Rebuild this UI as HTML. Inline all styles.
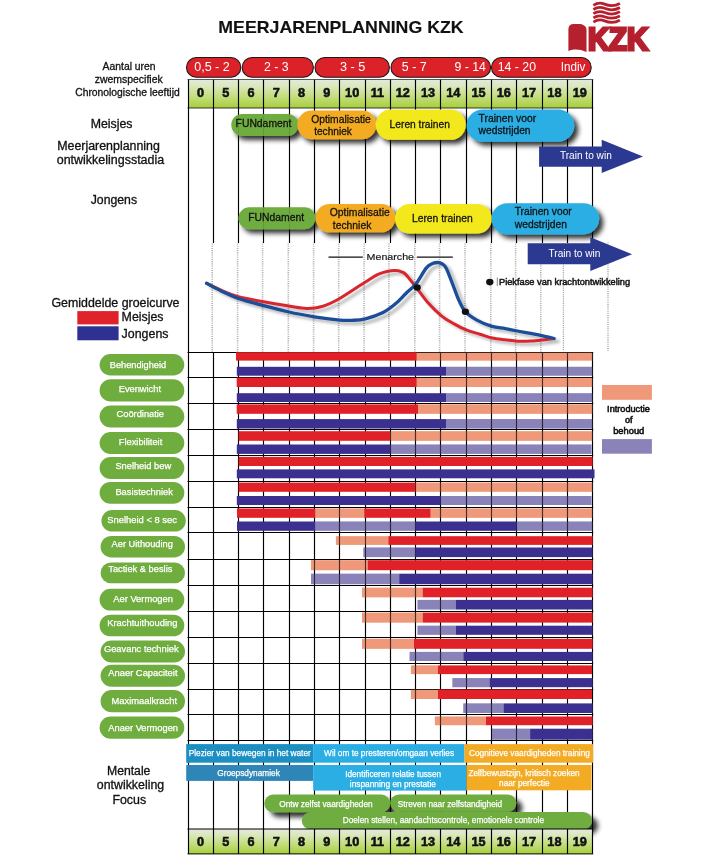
<!DOCTYPE html>
<html lang="nl"><head><meta charset="utf-8"><title>Meerjarenplanning KZK</title>
<style>
html,body{margin:0;padding:0;background:#fff;}
body{width:710px;height:865px;overflow:hidden;font-family:"Liberation Sans",sans-serif;}
svg{display:block;font-family:"Liberation Sans",sans-serif;will-change:transform;}
.num{font-size:12.7px;font-weight:bold;fill:#111;stroke:#111;stroke-width:0.55px;text-anchor:middle;}
</style></head><body>
<svg width="710" height="865" viewBox="0 0 710 865">
<defs>
<linearGradient id="gh" x1="0" y1="0" x2="0" y2="1"><stop offset="0" stop-color="#e4e9de"/><stop offset="0.22" stop-color="#dbe8c0"/><stop offset="0.6" stop-color="#c4dd7e"/><stop offset="1" stop-color="#a6cf3a"/></linearGradient>
<filter id="sh" x="-10%" y="-30%" width="135%" height="200%"><feGaussianBlur in="SourceAlpha" stdDeviation="2.4"/><feOffset dx="3.6" dy="4.2" result="o"/><feComponentTransfer><feFuncA type="linear" slope="0.8"/></feComponentTransfer><feMerge><feMergeNode/><feMergeNode in="SourceGraphic"/></feMerge></filter>
<filter id="sh2" x="-5%" y="-30%" width="115%" height="180%"><feGaussianBlur in="SourceAlpha" stdDeviation="1.5"/><feOffset dx="3.5" dy="3" result="o"/><feComponentTransfer><feFuncA type="linear" slope="0.28"/></feComponentTransfer><feMerge><feMergeNode/><feMergeNode in="SourceGraphic"/></feMerge></filter>
<filter id="sh3" x="-10%" y="-40%" width="130%" height="230%"><feGaussianBlur in="SourceAlpha" stdDeviation="2.6"/><feOffset dx="5.6" dy="4.6" result="o"/><feComponentTransfer><feFuncA type="linear" slope="0.8"/></feComponentTransfer><feMerge><feMergeNode/><feMergeNode in="SourceGraphic"/></feMerge></filter>
</defs>
<rect width="710" height="865" fill="#fff"/>
<text x="218.3" y="32.9" font-size="15.7" fill="#111" font-weight="bold" stroke="#111" stroke-width="0.12" textLength="245.3" lengthAdjust="spacingAndGlyphs">MEERJARENPLANNING KZK</text>
<g fill="#b5202e">
<path d="M568.4 29 C568.6 25.8 570.6 24 573.5 24 L578.5 24 C583 24 586 26 586.5 29 L586.5 52 C582 50 578 49.2 574 49.6 C572 49.8 570 50.4 568.4 51 Z"/>
<text x="587.9" y="50.1" font-size="30.6" font-weight="bold" stroke="#b5202e" stroke-width="2.9" stroke-linejoin="miter" textLength="60.2" lengthAdjust="spacingAndGlyphs">KZK</text>
</g>
<g fill="none" stroke="#b5202e" stroke-width="2.75">
<path d="M593.4 5.3 C597 2.9 601 2.7 604.5 4.1 C609 5.9 614 6.9 619.9 3.3"/>
<path d="M593.4 9.5 C597 7.1 601 6.9 604.5 8.3 C609 10.1 614 11.1 619.9 7.5"/>
<path d="M593.4 13.7 C597 11.3 601 11.1 604.5 12.5 C609 14.3 614 15.3 619.9 11.7"/>
<path d="M593.4 17.9 C597 15.5 601 15.3 604.5 16.7 C609 18.5 614 19.5 619.9 15.9"/>
<path d="M593.4 22.1 C597 19.7 601 19.5 604.5 20.9 C609 22.7 614 23.7 619.9 20.1"/>
</g>
<text x="102.6" y="69.8" font-size="10.7" fill="#111" stroke="#111" stroke-width="0.3" textLength="53.0" lengthAdjust="spacingAndGlyphs">Aantal uren</text>
<text x="94.7" y="82.5" font-size="10.7" fill="#111" stroke="#111" stroke-width="0.3" textLength="68.0" lengthAdjust="spacingAndGlyphs">zwemspecifiek</text>
<text x="75.2" y="96.1" font-size="10.7" fill="#111" stroke="#111" stroke-width="0.3" textLength="104.5" lengthAdjust="spacingAndGlyphs">Chronologische leeftijd</text>
<text x="90.7" y="127.7" font-size="12" fill="#111" stroke="#111" stroke-width="0.3" textLength="41.8" lengthAdjust="spacingAndGlyphs">Meisjes</text>
<text x="57.2" y="150.0" font-size="12" fill="#111" stroke="#111" stroke-width="0.3" textLength="102.7" lengthAdjust="spacingAndGlyphs">Meerjarenplanning</text>
<text x="56.7" y="164.0" font-size="12" fill="#111" stroke="#111" stroke-width="0.3" textLength="107.5" lengthAdjust="spacingAndGlyphs">ontwikkelingsstadia</text>
<text x="90.7" y="203.8" font-size="12" fill="#111" stroke="#111" stroke-width="0.3" textLength="46.4" lengthAdjust="spacingAndGlyphs">Jongens</text>
<text x="51.4" y="306.6" font-size="12" fill="#111" stroke="#111" stroke-width="0.3" textLength="128.1" lengthAdjust="spacingAndGlyphs">Gemiddelde groeicurve</text>
<rect x="77.3" y="311.1" width="41.3" height="13.3" fill="#e0232b"/>
<rect x="77.3" y="326.3" width="41.3" height="14" fill="#2e3192"/>
<text x="121.6" y="320.5" font-size="12" fill="#111" stroke="#111" stroke-width="0.3" textLength="41.9" lengthAdjust="spacingAndGlyphs">Meisjes</text>
<text x="121.6" y="337.5" font-size="12" fill="#111" stroke="#111" stroke-width="0.3" textLength="46.9" lengthAdjust="spacingAndGlyphs">Jongens</text>
<text x="107.0" y="774.8" font-size="12" fill="#111" stroke="#111" stroke-width="0.3" textLength="43.4" lengthAdjust="spacingAndGlyphs">Mentale</text>
<text x="96.8" y="789.0" font-size="12" fill="#111" stroke="#111" stroke-width="0.3" textLength="67.4" lengthAdjust="spacingAndGlyphs">ontwikkeling</text>
<text x="112.4" y="803.7" font-size="12" fill="#111" stroke="#111" stroke-width="0.3" textLength="33.8" lengthAdjust="spacingAndGlyphs">Focus</text>
<rect x="186.5" y="57.5" width="54.3" height="19.8" rx="9.9" fill="#db2229" stroke="#1a1a1a" stroke-width="1.1"/>
<rect x="242.2" y="57.5" width="71.2" height="19.8" rx="9.9" fill="#db2229" stroke="#1a1a1a" stroke-width="1.1"/>
<rect x="315.0" y="57.5" width="74.4" height="19.8" rx="9.9" fill="#db2229" stroke="#1a1a1a" stroke-width="1.1"/>
<rect x="391.0" y="57.5" width="99.6" height="19.8" rx="9.9" fill="#db2229" stroke="#1a1a1a" stroke-width="1.1"/>
<rect x="491.5" y="57.5" width="99.7" height="19.8" rx="9.9" fill="#db2229" stroke="#1a1a1a" stroke-width="1.1"/>
<text x="194.2" y="71.1" font-size="12.5" fill="#fff" textLength="35.5" lengthAdjust="spacingAndGlyphs">0,5 - 2</text>
<text x="263.9" y="71.1" font-size="12.5" fill="#fff" textLength="24.6" lengthAdjust="spacingAndGlyphs">2 - 3</text>
<text x="340.0" y="71.1" font-size="12.5" fill="#fff" textLength="25.4" lengthAdjust="spacingAndGlyphs">3 - 5</text>
<text x="401.8" y="71.1" font-size="12.5" fill="#fff" textLength="24.8" lengthAdjust="spacingAndGlyphs">5 - 7</text>
<text x="454.4" y="71.1" font-size="12.5" fill="#fff" textLength="31.4" lengthAdjust="spacingAndGlyphs">9 - 14</text>
<text x="497.8" y="71.1" font-size="12.5" fill="#fff" textLength="38.2" lengthAdjust="spacingAndGlyphs">14 - 20</text>
<text x="560.7" y="71.1" font-size="12.5" fill="#fff" textLength="24.7" lengthAdjust="spacingAndGlyphs">Indiv</text>
<rect x="188.15" y="79.4" width="404.48" height="28.6" fill="url(#gh)"/>
<line x1="188.50" y1="79.4" x2="188.50" y2="108.0" stroke="#000" stroke-width="1.15"/>
<line x1="213.50" y1="79.4" x2="213.50" y2="108.0" stroke="#000" stroke-width="1.15"/>
<line x1="238.50" y1="79.4" x2="238.50" y2="108.0" stroke="#000" stroke-width="1.15"/>
<line x1="263.50" y1="79.4" x2="263.50" y2="108.0" stroke="#000" stroke-width="1.15"/>
<line x1="289.50" y1="79.4" x2="289.50" y2="108.0" stroke="#000" stroke-width="1.15"/>
<line x1="314.50" y1="79.4" x2="314.50" y2="108.0" stroke="#000" stroke-width="1.15"/>
<line x1="339.50" y1="79.4" x2="339.50" y2="108.0" stroke="#000" stroke-width="1.15"/>
<line x1="365.50" y1="79.4" x2="365.50" y2="108.0" stroke="#000" stroke-width="1.15"/>
<line x1="390.50" y1="79.4" x2="390.50" y2="108.0" stroke="#000" stroke-width="1.15"/>
<line x1="415.50" y1="79.4" x2="415.50" y2="108.0" stroke="#000" stroke-width="1.15"/>
<line x1="440.50" y1="79.4" x2="440.50" y2="108.0" stroke="#000" stroke-width="1.15"/>
<line x1="466.50" y1="79.4" x2="466.50" y2="108.0" stroke="#000" stroke-width="1.15"/>
<line x1="491.50" y1="79.4" x2="491.50" y2="108.0" stroke="#000" stroke-width="1.15"/>
<line x1="516.50" y1="79.4" x2="516.50" y2="108.0" stroke="#000" stroke-width="1.15"/>
<line x1="542.50" y1="79.4" x2="542.50" y2="108.0" stroke="#000" stroke-width="1.15"/>
<line x1="567.50" y1="79.4" x2="567.50" y2="108.0" stroke="#000" stroke-width="1.15"/>
<line x1="592.50" y1="79.4" x2="592.50" y2="108.0" stroke="#000" stroke-width="1.15"/>
<text class="num" x="200.49" y="97.1">0</text>
<text class="num" x="225.77" y="97.1">5</text>
<text class="num" x="251.05" y="97.1">6</text>
<text class="num" x="276.33" y="97.1">7</text>
<text class="num" x="301.61" y="97.1">8</text>
<text class="num" x="326.89" y="97.1">9</text>
<text class="num" x="352.17" y="97.1">10</text>
<text class="num" x="377.45" y="97.1">11</text>
<text class="num" x="402.73" y="97.1">12</text>
<text class="num" x="428.01" y="97.1">13</text>
<text class="num" x="453.29" y="97.1">14</text>
<text class="num" x="478.57" y="97.1">15</text>
<text class="num" x="503.85" y="97.1">16</text>
<text class="num" x="529.13" y="97.1">17</text>
<text class="num" x="554.41" y="97.1">18</text>
<text class="num" x="579.69" y="97.1">19</text>
<line x1="187.55" y1="79.5" x2="593.23" y2="79.5" stroke="#333" stroke-width="0.8"/>
<line x1="187.55" y1="108.0" x2="593.23" y2="108.0" stroke="#222" stroke-width="0.9"/>
<line x1="188.50" y1="107.5" x2="188.50" y2="352" stroke="#000" stroke-width="1.15"/>
<line x1="213.50" y1="107.5" x2="213.50" y2="243" stroke="#000" stroke-width="1.15"/>
<line x1="238.50" y1="107.5" x2="238.50" y2="243" stroke="#000" stroke-width="1.15"/>
<line x1="263.50" y1="107.5" x2="263.50" y2="243" stroke="#000" stroke-width="1.15"/>
<line x1="289.50" y1="107.5" x2="289.50" y2="243" stroke="#000" stroke-width="1.15"/>
<line x1="314.50" y1="107.5" x2="314.50" y2="243" stroke="#000" stroke-width="1.15"/>
<line x1="339.50" y1="107.5" x2="339.50" y2="243" stroke="#000" stroke-width="1.15"/>
<line x1="365.50" y1="107.5" x2="365.50" y2="243" stroke="#000" stroke-width="1.15"/>
<line x1="390.50" y1="107.5" x2="390.50" y2="243" stroke="#000" stroke-width="1.15"/>
<line x1="415.50" y1="107.5" x2="415.50" y2="243" stroke="#000" stroke-width="1.15"/>
<line x1="440.50" y1="107.5" x2="440.50" y2="243" stroke="#000" stroke-width="1.15"/>
<line x1="466.50" y1="107.5" x2="466.50" y2="243" stroke="#000" stroke-width="1.15"/>
<line x1="491.50" y1="107.5" x2="491.50" y2="243" stroke="#000" stroke-width="1.15"/>
<line x1="516.50" y1="107.5" x2="516.50" y2="243" stroke="#000" stroke-width="1.15"/>
<line x1="542.50" y1="107.5" x2="542.50" y2="243" stroke="#000" stroke-width="1.15"/>
<line x1="567.50" y1="107.5" x2="567.50" y2="243" stroke="#000" stroke-width="1.15"/>
<line x1="592.50" y1="107.5" x2="592.50" y2="243" stroke="#000" stroke-width="1.15"/>
<line x1="212.2" y1="243.5" x2="212.2" y2="352" stroke="#b2b2b2" stroke-width="1.6" stroke-dasharray="1.1 1.1"/>
<line x1="237.6" y1="243.5" x2="237.6" y2="352" stroke="#b2b2b2" stroke-width="1.6" stroke-dasharray="1.1 1.1"/>
<line x1="262.6" y1="243.5" x2="262.6" y2="352" stroke="#b2b2b2" stroke-width="1.6" stroke-dasharray="1.1 1.1"/>
<line x1="288.3" y1="243.5" x2="288.3" y2="352" stroke="#b2b2b2" stroke-width="1.6" stroke-dasharray="1.1 1.1"/>
<line x1="313.6" y1="243.5" x2="313.6" y2="352" stroke="#b2b2b2" stroke-width="1.6" stroke-dasharray="1.1 1.1"/>
<line x1="338.7" y1="243.5" x2="338.7" y2="352" stroke="#b2b2b2" stroke-width="1.6" stroke-dasharray="1.1 1.1"/>
<line x1="364.1" y1="243.5" x2="364.1" y2="352" stroke="#b2b2b2" stroke-width="1.6" stroke-dasharray="1.1 1.1"/>
<line x1="388.9" y1="243.5" x2="388.9" y2="352" stroke="#b2b2b2" stroke-width="1.6" stroke-dasharray="1.1 1.1"/>
<line x1="414.8" y1="243.5" x2="414.8" y2="352" stroke="#b2b2b2" stroke-width="1.6" stroke-dasharray="1.1 1.1"/>
<line x1="439.6" y1="243.5" x2="439.6" y2="352" stroke="#b2b2b2" stroke-width="1.6" stroke-dasharray="1.1 1.1"/>
<line x1="465.0" y1="243.5" x2="465.0" y2="352" stroke="#b2b2b2" stroke-width="1.6" stroke-dasharray="1.1 1.1"/>
<line x1="490.8" y1="243.5" x2="490.8" y2="352" stroke="#b2b2b2" stroke-width="1.6" stroke-dasharray="1.1 1.1"/>
<line x1="515.6" y1="243.5" x2="515.6" y2="352" stroke="#b2b2b2" stroke-width="1.6" stroke-dasharray="1.1 1.1"/>
<line x1="540.8" y1="243.5" x2="540.8" y2="352" stroke="#b2b2b2" stroke-width="1.6" stroke-dasharray="1.1 1.1"/>
<line x1="563.3" y1="243.5" x2="563.3" y2="351" stroke="#8a8a8a" stroke-width="1" stroke-dasharray="1.1 1.1"/>
<line x1="608" y1="242.5" x2="608" y2="351" stroke="#bcbcbc" stroke-width="1.8" stroke-dasharray="1.1 1.1"/>
<rect x="231.3" y="113.9" width="67.2" height="22.0" rx="11.0" fill="#70ad3f" filter="url(#sh)"/>
<line x1="238.50" y1="114.4" x2="238.50" y2="135.4" stroke="#000" stroke-opacity="0.12" stroke-width="1.15"/>
<line x1="263.50" y1="114.4" x2="263.50" y2="135.4" stroke="#000" stroke-opacity="0.12" stroke-width="1.15"/>
<line x1="289.50" y1="114.4" x2="289.50" y2="135.4" stroke="#000" stroke-opacity="0.12" stroke-width="1.15"/>
<text x="235.6" y="127.3" font-size="10.5" fill="#111" stroke="#111" stroke-width="0.28" textLength="55.8" lengthAdjust="spacingAndGlyphs">FUNdament</text>
<rect x="297.3" y="110.6" width="79.1" height="28.6" rx="14.3" fill="#f3ab23" filter="url(#sh)"/>
<text x="311.2" y="122.7" font-size="10.5" fill="#111" stroke="#111" stroke-width="0.28" textLength="59.6" lengthAdjust="spacingAndGlyphs">Optimalisatie</text>
<text x="314.2" y="134.7" font-size="10.5" fill="#111" stroke="#111" stroke-width="0.28" textLength="37.6" lengthAdjust="spacingAndGlyphs">techniek</text>
<rect x="375.6" y="109.6" width="90.1" height="30.2" rx="15.1" fill="#f3e81e" filter="url(#sh)"/>
<text x="389.6" y="127.9" font-size="10.5" fill="#111" stroke="#111" stroke-width="0.28" textLength="60.3" lengthAdjust="spacingAndGlyphs">Leren trainen</text>
<rect x="466.5" y="109.4" width="107.8" height="32.4" rx="16.2" fill="#2aaee4" filter="url(#sh)"/>
<text x="478.6" y="121.6" font-size="10.5" fill="#111" stroke="#111" stroke-width="0.28" textLength="57.5" lengthAdjust="spacingAndGlyphs">Trainen voor</text>
<text x="478.6" y="133.5" font-size="10.5" fill="#111" stroke="#111" stroke-width="0.28" textLength="52.0" lengthAdjust="spacingAndGlyphs">wedstrijden</text>
<rect x="238.4" y="207.2" width="77.1" height="22.0" rx="11.0" fill="#70ad3f" filter="url(#sh)"/>
<line x1="263.50" y1="207.7" x2="263.50" y2="228.7" stroke="#000" stroke-opacity="0.12" stroke-width="1.15"/>
<line x1="289.50" y1="207.7" x2="289.50" y2="228.7" stroke="#000" stroke-opacity="0.12" stroke-width="1.15"/>
<text x="248.3" y="221.1" font-size="10.5" fill="#111" stroke="#111" stroke-width="0.28" textLength="55.8" lengthAdjust="spacingAndGlyphs">FUNdament</text>
<rect x="315.5" y="203.9" width="79.9" height="28.4" rx="14.2" fill="#f3ab23" filter="url(#sh)"/>
<text x="329.7" y="216.0" font-size="10.5" fill="#111" stroke="#111" stroke-width="0.28" textLength="60.1" lengthAdjust="spacingAndGlyphs">Optimalisatie</text>
<text x="332.8" y="228.7" font-size="10.5" fill="#111" stroke="#111" stroke-width="0.28" textLength="38.5" lengthAdjust="spacingAndGlyphs">techniek</text>
<rect x="394.9" y="204.0" width="96.9" height="29.6" rx="14.8" fill="#f3e81e" filter="url(#sh)"/>
<text x="411.9" y="221.7" font-size="10.5" fill="#111" stroke="#111" stroke-width="0.28" textLength="60.9" lengthAdjust="spacingAndGlyphs">Leren trainen</text>
<rect x="491.6" y="203.2" width="107.6" height="31.2" rx="15.6" fill="#2aaee4" filter="url(#sh)"/>
<text x="514.7" y="214.6" font-size="10.5" fill="#111" stroke="#111" stroke-width="0.28" textLength="57.1" lengthAdjust="spacingAndGlyphs">Trainen voor</text>
<text x="514.7" y="227.6" font-size="10.5" fill="#111" stroke="#111" stroke-width="0.28" textLength="52.3" lengthAdjust="spacingAndGlyphs">wedstrijden</text>
<path d="M539.1 146.4 L601.7 146.4 L601.7 139.8 L643 156.4 L601.7 173.0 L601.7 166.7 L539.1 166.7 Z" fill="#2b3990"/>
<text x="559.9" y="158.8" font-size="10.6" fill="#fff" textLength="51.9" lengthAdjust="spacingAndGlyphs">Train to win</text>
<path d="M527.7 243.3 L590.3 243.3 L590.3 237.2 L632.1 254.15 L590.3 271.1 L590.3 264.3 L527.7 264.3 Z" fill="#2b3990"/>
<text x="548.5" y="256.7" font-size="10.6" fill="#fff" textLength="51.9" lengthAdjust="spacingAndGlyphs">Train to win</text>
<g fill="none" stroke-linecap="round" stroke-linejoin="round" filter="url(#sh2)">
<path stroke="#d8282f" stroke-width="3" d="M206.6 283.3 C209.2 284.5 216.7 288.4 222 290.6 C227.3 292.9 231.4 294.9 238.3 296.8 C245.2 298.7 255.2 300.2 263.7 301.8 C272.1 303.4 281.8 305.0 289 306.1 C296.2 307.2 301.3 308.4 306.8 308.5 C312.3 308.6 316.5 308.2 322 306.5 C327.5 304.8 332.5 302.6 339.7 298.5 C346.9 294.4 359.0 286.0 365.4 282 C371.8 278.0 374.2 276.2 378 274.4 C381.8 272.6 385.1 271.8 388 271.2 C390.9 270.6 393.1 270.5 395.3 270.6 C397.5 270.7 399.2 270.9 401 271.6 C402.8 272.3 403.4 272.0 405.9 274.6 C408.4 277.2 412.2 282.3 416 287.1 C419.8 291.9 424.5 298.8 428.7 303.6 C432.9 308.4 437.2 312.4 441.4 315.8 C445.6 319.2 449.9 321.5 454.1 323.9 C458.3 326.3 462.5 328.5 466.8 330.2 C471.1 331.9 475.8 332.9 480 334.2 C484.2 335.5 487.9 337.1 492.1 338.0 C496.3 338.9 501.2 339.3 505.4 339.8 C509.6 340.3 513.3 341.0 517.5 341.2 C521.7 341.4 526.1 341.3 530.7 341.1 C535.3 340.9 541.1 340.2 545 339.8 C548.9 339.4 552.5 338.7 554 338.5"/>
<path stroke="#1d4d98" stroke-width="3.3" d="M206.6 283.3 C209.2 284.6 216.7 288.9 222 291.4 C227.3 293.9 231.4 296.1 238.3 298.5 C245.2 300.9 255.2 303.4 263.7 305.6 C272.1 307.9 280.6 310.1 289 312 C297.4 313.9 305.9 315.4 314.4 316.8 C322.8 318.2 333.4 319.5 339.7 320.1 C346.0 320.7 347.7 320.5 352 320.3 C356.3 320.1 360.2 320.1 365.4 318.8 C370.6 317.5 378.0 315.0 383.1 312.5 C388.2 310.0 392.0 306.8 395.8 303.6 C399.6 300.4 402.5 296.8 405.9 293.5 C409.3 290.2 412.6 288.0 416 283.8 C419.4 279.6 423.4 271.5 426.2 268.1 C428.9 264.7 430.5 264.5 432.5 263.6 C434.5 262.7 436.6 262.4 438.4 262.5 C440.1 262.6 441.6 263.3 443 264.4 C444.4 265.4 444.9 265.4 446.5 268.8 C448.1 272.2 450.7 279.2 452.8 284.6 C454.9 290.0 457.1 296.5 459.2 301 C461.3 305.5 462.4 308.5 465.3 311.7 C468.2 314.9 472.4 317.7 476.9 320.1 C481.4 322.6 487.4 325.0 492.1 326.4 C496.9 327.8 501.2 327.8 505.4 328.6 C509.6 329.4 513.3 330.2 517.5 331.0 C521.7 331.8 526.1 332.5 530.7 333.4 C535.3 334.3 541.1 335.5 545 336.4 C548.9 337.2 552.5 338.1 554 338.5"/>
</g>
<ellipse cx="417.2" cy="287.5" rx="3.6" ry="3.2" fill="#111"/>
<ellipse cx="465.4" cy="311.8" rx="3.6" ry="3.2" fill="#111"/>
<ellipse cx="489.8" cy="282.1" rx="3.7" ry="3.3" fill="#111"/>
<line x1="328.5" y1="257.2" x2="362.8" y2="257.2" stroke="#111" stroke-width="1.3"/>
<line x1="416.8" y1="257.2" x2="452.8" y2="257.2" stroke="#111" stroke-width="1.3"/>
<text x="366.6" y="260.0" font-size="9.8" fill="#1a1a1a" stroke="#1a1a1a" stroke-width="0.2" textLength="47.4" lengthAdjust="spacingAndGlyphs">Menarche</text>
<line x1="497.3" y1="277.5" x2="497.3" y2="286" stroke="#666" stroke-width="0.8"/>
<text x="499.0" y="285.1" font-size="8.9" fill="#111" stroke="#111" stroke-width="0.45" textLength="131.1" lengthAdjust="spacingAndGlyphs">Piekfase van krachtontwikkeling</text>
<rect x="416.7" y="352.2" width="175.9" height="8.4" fill="#ef987a"/>
<rect x="446.0" y="366.8" width="146.6" height="8.9" fill="#8a83ba"/>
<rect x="416.7" y="377.6" width="175.9" height="9.4" fill="#ef987a"/>
<rect x="446.0" y="393.2" width="146.6" height="8.8" fill="#8a83ba"/>
<rect x="418.0" y="404.4" width="174.6" height="9.4" fill="#ef987a"/>
<rect x="446.0" y="419.1" width="146.6" height="9.4" fill="#8a83ba"/>
<rect x="390.0" y="431.2" width="202.6" height="9.6" fill="#ef987a"/>
<rect x="390.0" y="444.5" width="201.5" height="9.4" fill="#8a83ba"/>
<rect x="415.3" y="482.6" width="177.3" height="9.2" fill="#ef987a"/>
<rect x="440.6" y="496.0" width="150.9" height="9.0" fill="#8a83ba"/>
<rect x="315.3" y="508.5" width="48.9" height="9.3" fill="#ef987a"/>
<rect x="430.6" y="508.5" width="162.0" height="9.3" fill="#ef987a"/>
<rect x="315.3" y="521.5" width="100.0" height="9.3" fill="#8a83ba"/>
<rect x="516.6" y="521.5" width="76.0" height="9.3" fill="#8a83ba"/>
<rect x="335.9" y="536.2" width="52.4" height="8.7" fill="#ef987a"/>
<rect x="363.4" y="547.5" width="51.9" height="9.6" fill="#8a83ba"/>
<rect x="311.0" y="560.2" width="56.7" height="10.0" fill="#ef987a"/>
<rect x="311.0" y="573.7" width="88.2" height="10.5" fill="#8a83ba"/>
<rect x="362.0" y="587.7" width="60.7" height="9.6" fill="#ef987a"/>
<rect x="417.5" y="599.9" width="38.4" height="9.6" fill="#8a83ba"/>
<rect x="362.0" y="612.6" width="60.7" height="10.0" fill="#ef987a"/>
<rect x="417.5" y="625.7" width="38.4" height="9.1" fill="#8a83ba"/>
<rect x="362.0" y="638.8" width="52.0" height="10.0" fill="#ef987a"/>
<rect x="409.6" y="651.9" width="53.7" height="9.1" fill="#8a83ba"/>
<rect x="410.9" y="665.4" width="27.1" height="8.7" fill="#ef987a"/>
<rect x="452.4" y="678.1" width="37.1" height="9.1" fill="#8a83ba"/>
<rect x="410.9" y="689.4" width="27.1" height="9.6" fill="#ef987a"/>
<rect x="463.3" y="703.4" width="40.2" height="9.6" fill="#8a83ba"/>
<rect x="434.9" y="716.5" width="51.1" height="8.7" fill="#ef987a"/>
<rect x="491.7" y="728.7" width="38.4" height="11.0" fill="#8a83ba"/>
<line x1="188.50" y1="352" x2="188.50" y2="830" stroke="#000" stroke-width="1.15"/>
<line x1="213.50" y1="352" x2="213.50" y2="830" stroke="#000" stroke-width="1.15"/>
<line x1="238.50" y1="352" x2="238.50" y2="830" stroke="#000" stroke-width="1.15"/>
<line x1="263.50" y1="352" x2="263.50" y2="830" stroke="#000" stroke-width="1.15"/>
<line x1="289.50" y1="352" x2="289.50" y2="830" stroke="#000" stroke-width="1.15"/>
<line x1="314.50" y1="352" x2="314.50" y2="830" stroke="#000" stroke-width="1.15"/>
<line x1="339.50" y1="352" x2="339.50" y2="830" stroke="#000" stroke-width="1.15"/>
<line x1="365.50" y1="352" x2="365.50" y2="830" stroke="#000" stroke-width="1.15"/>
<line x1="390.50" y1="352" x2="390.50" y2="830" stroke="#000" stroke-width="1.15"/>
<line x1="415.50" y1="352" x2="415.50" y2="830" stroke="#000" stroke-width="1.15"/>
<line x1="440.50" y1="352" x2="440.50" y2="830" stroke="#000" stroke-width="1.15"/>
<line x1="466.50" y1="352" x2="466.50" y2="830" stroke="#000" stroke-width="1.15"/>
<line x1="491.50" y1="352" x2="491.50" y2="830" stroke="#000" stroke-width="1.15"/>
<line x1="516.50" y1="352" x2="516.50" y2="830" stroke="#000" stroke-width="1.15"/>
<line x1="542.50" y1="352" x2="542.50" y2="830" stroke="#000" stroke-width="1.15"/>
<line x1="567.50" y1="352" x2="567.50" y2="830" stroke="#000" stroke-width="1.15"/>
<line x1="592.50" y1="352" x2="592.50" y2="830" stroke="#000" stroke-width="1.15"/>
<line x1="187.55" y1="352.5" x2="593.23" y2="352.5" stroke="#000" stroke-width="1.15"/>
<line x1="187.55" y1="377.5" x2="593.23" y2="377.5" stroke="#000" stroke-width="1.15"/>
<line x1="187.55" y1="403.5" x2="593.23" y2="403.5" stroke="#000" stroke-width="1.15"/>
<line x1="187.55" y1="429.5" x2="593.23" y2="429.5" stroke="#000" stroke-width="1.15"/>
<line x1="187.55" y1="455.5" x2="593.23" y2="455.5" stroke="#000" stroke-width="1.15"/>
<line x1="187.55" y1="481.5" x2="593.23" y2="481.5" stroke="#000" stroke-width="1.15"/>
<line x1="187.55" y1="507.5" x2="593.23" y2="507.5" stroke="#000" stroke-width="1.15"/>
<line x1="187.55" y1="532.5" x2="593.23" y2="532.5" stroke="#000" stroke-width="1.15"/>
<line x1="187.55" y1="559.5" x2="593.23" y2="559.5" stroke="#000" stroke-width="1.15"/>
<line x1="187.55" y1="585.5" x2="593.23" y2="585.5" stroke="#000" stroke-width="1.15"/>
<line x1="187.55" y1="611.5" x2="593.23" y2="611.5" stroke="#000" stroke-width="1.15"/>
<line x1="187.55" y1="637.5" x2="593.23" y2="637.5" stroke="#000" stroke-width="1.15"/>
<line x1="187.55" y1="663.5" x2="593.23" y2="663.5" stroke="#000" stroke-width="1.15"/>
<line x1="187.55" y1="689.5" x2="593.23" y2="689.5" stroke="#000" stroke-width="1.15"/>
<line x1="187.55" y1="714.5" x2="593.23" y2="714.5" stroke="#000" stroke-width="1.15"/>
<line x1="187.55" y1="740.5" x2="593.23" y2="740.5" stroke="#000" stroke-width="1.15"/>
<rect x="416.7" y="352.2" width="175.9" height="8.4" fill="#ef987a" fill-opacity="0.3"/>
<rect x="446.0" y="366.8" width="146.6" height="8.9" fill="#8a83ba" fill-opacity="0.3"/>
<rect x="416.7" y="377.6" width="175.9" height="9.4" fill="#ef987a" fill-opacity="0.3"/>
<rect x="446.0" y="393.2" width="146.6" height="8.8" fill="#8a83ba" fill-opacity="0.3"/>
<rect x="418.0" y="404.4" width="174.6" height="9.4" fill="#ef987a" fill-opacity="0.3"/>
<rect x="446.0" y="419.1" width="146.6" height="9.4" fill="#8a83ba" fill-opacity="0.3"/>
<rect x="390.0" y="431.2" width="202.6" height="9.6" fill="#ef987a" fill-opacity="0.3"/>
<rect x="390.0" y="444.5" width="201.5" height="9.4" fill="#8a83ba" fill-opacity="0.3"/>
<rect x="415.3" y="482.6" width="177.3" height="9.2" fill="#ef987a" fill-opacity="0.3"/>
<rect x="440.6" y="496.0" width="150.9" height="9.0" fill="#8a83ba" fill-opacity="0.3"/>
<rect x="315.3" y="508.5" width="48.9" height="9.3" fill="#ef987a" fill-opacity="0.3"/>
<rect x="430.6" y="508.5" width="162.0" height="9.3" fill="#ef987a" fill-opacity="0.3"/>
<rect x="315.3" y="521.5" width="100.0" height="9.3" fill="#8a83ba" fill-opacity="0.3"/>
<rect x="516.6" y="521.5" width="76.0" height="9.3" fill="#8a83ba" fill-opacity="0.3"/>
<rect x="335.9" y="536.2" width="52.4" height="8.7" fill="#ef987a" fill-opacity="0.3"/>
<rect x="363.4" y="547.5" width="51.9" height="9.6" fill="#8a83ba" fill-opacity="0.3"/>
<rect x="311.0" y="560.2" width="56.7" height="10.0" fill="#ef987a" fill-opacity="0.3"/>
<rect x="311.0" y="573.7" width="88.2" height="10.5" fill="#8a83ba" fill-opacity="0.3"/>
<rect x="362.0" y="587.7" width="60.7" height="9.6" fill="#ef987a" fill-opacity="0.3"/>
<rect x="417.5" y="599.9" width="38.4" height="9.6" fill="#8a83ba" fill-opacity="0.3"/>
<rect x="362.0" y="612.6" width="60.7" height="10.0" fill="#ef987a" fill-opacity="0.3"/>
<rect x="417.5" y="625.7" width="38.4" height="9.1" fill="#8a83ba" fill-opacity="0.3"/>
<rect x="362.0" y="638.8" width="52.0" height="10.0" fill="#ef987a" fill-opacity="0.3"/>
<rect x="409.6" y="651.9" width="53.7" height="9.1" fill="#8a83ba" fill-opacity="0.3"/>
<rect x="410.9" y="665.4" width="27.1" height="8.7" fill="#ef987a" fill-opacity="0.3"/>
<rect x="452.4" y="678.1" width="37.1" height="9.1" fill="#8a83ba" fill-opacity="0.3"/>
<rect x="410.9" y="689.4" width="27.1" height="9.6" fill="#ef987a" fill-opacity="0.3"/>
<rect x="463.3" y="703.4" width="40.2" height="9.6" fill="#8a83ba" fill-opacity="0.3"/>
<rect x="434.9" y="716.5" width="51.1" height="8.7" fill="#ef987a" fill-opacity="0.3"/>
<rect x="491.7" y="728.7" width="38.4" height="11.0" fill="#8a83ba" fill-opacity="0.3"/>
<rect x="236.0" y="352.2" width="180.7" height="8.4" fill="#e02128"/>
<rect x="236.8" y="366.8" width="209.2" height="8.9" fill="#3b2f8f"/>
<rect x="236.7" y="377.6" width="180.0" height="9.4" fill="#e02128"/>
<rect x="236.8" y="393.2" width="209.2" height="8.8" fill="#3b2f8f"/>
<rect x="236.7" y="404.4" width="181.3" height="9.4" fill="#e02128"/>
<rect x="236.8" y="419.1" width="209.2" height="9.4" fill="#3b2f8f"/>
<rect x="238.6" y="431.2" width="151.4" height="9.6" fill="#e02128"/>
<rect x="236.8" y="444.5" width="153.2" height="9.4" fill="#3b2f8f"/>
<rect x="238.6" y="456.9" width="354.0" height="9.1" fill="#e02128"/>
<rect x="236.8" y="469.4" width="357.7" height="8.9" fill="#3b2f8f"/>
<rect x="238.6" y="482.6" width="176.7" height="9.2" fill="#e02128"/>
<rect x="236.8" y="496.0" width="203.8" height="9.0" fill="#3b2f8f"/>
<rect x="237.0" y="508.5" width="78.3" height="9.3" fill="#e02128"/>
<rect x="364.2" y="508.5" width="66.4" height="9.3" fill="#e02128"/>
<rect x="237.0" y="521.5" width="78.3" height="9.3" fill="#3b2f8f"/>
<rect x="415.3" y="521.5" width="101.3" height="9.3" fill="#3b2f8f"/>
<rect x="388.3" y="536.2" width="204.3" height="8.7" fill="#e02128"/>
<rect x="415.3" y="547.5" width="177.3" height="9.6" fill="#3b2f8f"/>
<rect x="367.7" y="560.2" width="224.9" height="10.0" fill="#e02128"/>
<rect x="399.2" y="573.7" width="193.4" height="10.5" fill="#3b2f8f"/>
<rect x="422.7" y="587.7" width="169.9" height="9.6" fill="#e02128"/>
<rect x="455.9" y="599.9" width="136.7" height="9.6" fill="#3b2f8f"/>
<rect x="422.7" y="612.6" width="169.9" height="10.0" fill="#e02128"/>
<rect x="455.9" y="625.7" width="136.7" height="9.1" fill="#3b2f8f"/>
<rect x="414.0" y="638.8" width="178.6" height="10.0" fill="#e02128"/>
<rect x="463.3" y="651.9" width="129.3" height="9.1" fill="#3b2f8f"/>
<rect x="438.0" y="665.4" width="154.0" height="8.7" fill="#e02128"/>
<rect x="489.5" y="678.1" width="103.1" height="9.1" fill="#3b2f8f"/>
<rect x="438.0" y="689.4" width="154.0" height="9.6" fill="#e02128"/>
<rect x="503.5" y="703.4" width="89.1" height="9.6" fill="#3b2f8f"/>
<rect x="486.0" y="716.5" width="106.6" height="8.7" fill="#e02128"/>
<rect x="530.1" y="728.7" width="62.5" height="11.0" fill="#3b2f8f"/>
<rect x="99.6" y="354" width="84.7" height="21.5" rx="10.8" fill="#70ad3f"/>
<text x="109.8" y="367.9" font-size="9.1" fill="#fff" stroke="#fff" stroke-width="0.25" textLength="56.3" lengthAdjust="spacingAndGlyphs">Behendigheid</text>
<rect x="99.6" y="379.3" width="84.7" height="22.3" rx="11.2" fill="#70ad3f"/>
<text x="118.7" y="391.5" font-size="9.1" fill="#fff" stroke="#fff" stroke-width="0.25" textLength="42.3" lengthAdjust="spacingAndGlyphs">Evenwicht</text>
<rect x="99.6" y="405.4" width="84.7" height="22.1" rx="11.1" fill="#70ad3f"/>
<text x="116.6" y="417.3" font-size="9.1" fill="#fff" stroke="#fff" stroke-width="0.25" textLength="47.4" lengthAdjust="spacingAndGlyphs">Coördinatie</text>
<rect x="99.6" y="432" width="84.7" height="22.1" rx="11.1" fill="#70ad3f"/>
<text x="118.7" y="444.5" font-size="9.1" fill="#fff" stroke="#fff" stroke-width="0.25" textLength="43.6" lengthAdjust="spacingAndGlyphs">Flexibiliteit</text>
<rect x="99.6" y="457.1" width="84.7" height="21.9" rx="10.9" fill="#70ad3f"/>
<text x="115.4" y="469.3" font-size="9.1" fill="#fff" stroke="#fff" stroke-width="0.25" textLength="55.7" lengthAdjust="spacingAndGlyphs">Snelheid bew</text>
<rect x="99.6" y="481.9" width="84.7" height="21.8" rx="10.9" fill="#70ad3f"/>
<text x="115.4" y="495.4" font-size="9.1" fill="#fff" stroke="#fff" stroke-width="0.25" textLength="57.5" lengthAdjust="spacingAndGlyphs">Basistechniek</text>
<rect x="101.4" y="510" width="84.4" height="21.6" rx="10.8" fill="#70ad3f"/>
<text x="107.2" y="522.5" font-size="9.1" fill="#fff" stroke="#fff" stroke-width="0.25" textLength="69.8" lengthAdjust="spacingAndGlyphs">Snelheid &lt; 8 sec</text>
<rect x="100.6" y="535.9" width="84.4" height="21.6" rx="10.8" fill="#70ad3f"/>
<text x="111.6" y="546.8" font-size="9.1" fill="#fff" stroke="#fff" stroke-width="0.25" textLength="61.3" lengthAdjust="spacingAndGlyphs">Aer Uithouding</text>
<rect x="100.6" y="562.5" width="84.4" height="20.8" rx="10.4" fill="#70ad3f"/>
<text x="108.3" y="572.2" font-size="9.1" fill="#fff" stroke="#fff" stroke-width="0.25" textLength="64.1" lengthAdjust="spacingAndGlyphs">Tactiek &amp; beslis</text>
<rect x="99.6" y="588.7" width="84.7" height="21.9" rx="10.9" fill="#70ad3f"/>
<text x="113.3" y="601.8" font-size="9.1" fill="#fff" stroke="#fff" stroke-width="0.25" textLength="59.6" lengthAdjust="spacingAndGlyphs">Aer Vermogen</text>
<rect x="99.6" y="614.7" width="84.7" height="21.6" rx="10.8" fill="#70ad3f"/>
<text x="107.2" y="626.1" font-size="9.1" fill="#fff" stroke="#fff" stroke-width="0.25" textLength="70.3" lengthAdjust="spacingAndGlyphs">Krachtuithouding</text>
<rect x="100.6" y="640.6" width="84.4" height="21.8" rx="10.9" fill="#70ad3f"/>
<text x="103.9" y="651.5" font-size="9.1" fill="#fff" stroke="#fff" stroke-width="0.25" textLength="74.8" lengthAdjust="spacingAndGlyphs">Geavanc techniek</text>
<rect x="100.6" y="664.7" width="84.4" height="22.0" rx="11.0" fill="#70ad3f"/>
<text x="108.3" y="676.1" font-size="9.1" fill="#fff" stroke="#fff" stroke-width="0.25" textLength="69.2" lengthAdjust="spacingAndGlyphs">Anaer Capaciteit</text>
<rect x="100.6" y="690" width="84.4" height="22.3" rx="11.1" fill="#70ad3f"/>
<text x="111.6" y="704.0" font-size="9.1" fill="#fff" stroke="#fff" stroke-width="0.25" textLength="65.4" lengthAdjust="spacingAndGlyphs">Maximaalkracht</text>
<rect x="99.6" y="716.6" width="84.7" height="22.1" rx="11.1" fill="#70ad3f"/>
<text x="108.3" y="730.6" font-size="9.1" fill="#fff" stroke="#fff" stroke-width="0.25" textLength="69.7" lengthAdjust="spacingAndGlyphs">Anaer Vermogen</text>
<rect x="602" y="385" width="49.9" height="14.8" fill="#ef987a"/>
<rect x="602" y="439.1" width="49.9" height="14.6" fill="#8a83ba"/>
<text x="607.1" y="411.8" font-size="8.9" fill="#111" stroke="#111" stroke-width="0.55" textLength="42.7" lengthAdjust="spacingAndGlyphs">Introductie</text>
<text x="624.9" y="422.8" font-size="8.9" fill="#111" stroke="#111" stroke-width="0.55" textLength="7.6" lengthAdjust="spacingAndGlyphs">of</text>
<text x="613.2" y="434.0" font-size="8.9" fill="#111" stroke="#111" stroke-width="0.55" textLength="31.1" lengthAdjust="spacingAndGlyphs">behoud</text>
<rect x="186.2" y="744.1" width="127.1" height="18.6" fill="#1b8ec2"/>
<rect x="313.2" y="744.1" width="151.3" height="18.6" fill="#2aaee4"/>
<rect x="464.4" y="744.1" width="128.7" height="18.6" fill="#f3ab23"/>
<rect x="186.2" y="765" width="127.1" height="15.9" fill="#2e86b8"/>
<rect x="313.2" y="765" width="153.4" height="25.6" fill="#2aaee4"/>
<rect x="466.4" y="765" width="125.1" height="25.3" fill="#f3ab23"/>
<text x="188.7" y="756.0" font-size="8.7" fill="#fff" stroke="#fff" stroke-width="0.25" textLength="122.1" lengthAdjust="spacingAndGlyphs">Plezier van bewegen in het water</text>
<text x="324.1" y="756.0" font-size="8.7" fill="#fff" stroke="#fff" stroke-width="0.25" textLength="130.0" lengthAdjust="spacingAndGlyphs">Wil om te presteren/omgaan verlies</text>
<text x="469.0" y="756.0" font-size="8.7" fill="#fff" stroke="#fff" stroke-width="0.25" textLength="120.9" lengthAdjust="spacingAndGlyphs">Cognitieve vaardigheden training</text>
<text x="217.2" y="775.9" font-size="8.7" fill="#fff" stroke="#fff" stroke-width="0.25" textLength="62.6" lengthAdjust="spacingAndGlyphs">Groepsdynamiek</text>
<text x="345.2" y="776.8" font-size="8.7" fill="#fff" stroke="#fff" stroke-width="0.25" textLength="95.9" lengthAdjust="spacingAndGlyphs">Identificeren relatie tussen</text>
<text x="349.8" y="786.8" font-size="8.7" fill="#fff" stroke="#fff" stroke-width="0.25" textLength="86.1" lengthAdjust="spacingAndGlyphs">inspanning en prestatie</text>
<text x="468.4" y="776.2" font-size="8.7" fill="#fff" stroke="#fff" stroke-width="0.25" textLength="111.3" lengthAdjust="spacingAndGlyphs">Zelfbewustzijn, kritisch zoeken</text>
<text x="499.1" y="786.1" font-size="8.7" fill="#fff" stroke="#fff" stroke-width="0.25" textLength="50.5" lengthAdjust="spacingAndGlyphs">naar perfectie</text>
<rect x="264.3" y="794.6" width="125.8" height="17.7" rx="8.8" fill="#70ad3f" filter="url(#sh3)"/>
<text x="279.2" y="806.9" font-size="8.7" fill="#fff" stroke="#fff" stroke-width="0.25" textLength="93.5" lengthAdjust="spacingAndGlyphs">Ontw zelfst vaardigheden</text>
<rect x="390.1" y="794.5" width="126.3" height="17.2" rx="8.6" fill="#70ad3f" filter="url(#sh3)"/>
<text x="397.7" y="807.0" font-size="8.7" fill="#fff" stroke="#fff" stroke-width="0.25" textLength="104.5" lengthAdjust="spacingAndGlyphs">Streven naar zelfstandigheid</text>
<rect x="301.8" y="812.0" width="290.2" height="17.4" rx="8.7" fill="#70ad3f" filter="url(#sh3)"/>
<text x="342.7" y="822.7" font-size="8.7" fill="#fff" stroke="#fff" stroke-width="0.25" textLength="201.3" lengthAdjust="spacingAndGlyphs">Doelen stellen, aandachtscontrole, emotionele controle</text>
<rect x="188.15" y="829.0" width="404.48" height="24.9" fill="url(#gh)"/>
<line x1="188.50" y1="829.0" x2="188.50" y2="853.9" stroke="#000" stroke-width="1.15"/>
<line x1="213.50" y1="829.0" x2="213.50" y2="853.9" stroke="#000" stroke-width="1.15"/>
<line x1="238.50" y1="829.0" x2="238.50" y2="853.9" stroke="#000" stroke-width="1.15"/>
<line x1="263.50" y1="829.0" x2="263.50" y2="853.9" stroke="#000" stroke-width="1.15"/>
<line x1="289.50" y1="829.0" x2="289.50" y2="853.9" stroke="#000" stroke-width="1.15"/>
<line x1="314.50" y1="829.0" x2="314.50" y2="853.9" stroke="#000" stroke-width="1.15"/>
<line x1="339.50" y1="829.0" x2="339.50" y2="853.9" stroke="#000" stroke-width="1.15"/>
<line x1="365.50" y1="829.0" x2="365.50" y2="853.9" stroke="#000" stroke-width="1.15"/>
<line x1="390.50" y1="829.0" x2="390.50" y2="853.9" stroke="#000" stroke-width="1.15"/>
<line x1="415.50" y1="829.0" x2="415.50" y2="853.9" stroke="#000" stroke-width="1.15"/>
<line x1="440.50" y1="829.0" x2="440.50" y2="853.9" stroke="#000" stroke-width="1.15"/>
<line x1="466.50" y1="829.0" x2="466.50" y2="853.9" stroke="#000" stroke-width="1.15"/>
<line x1="491.50" y1="829.0" x2="491.50" y2="853.9" stroke="#000" stroke-width="1.15"/>
<line x1="516.50" y1="829.0" x2="516.50" y2="853.9" stroke="#000" stroke-width="1.15"/>
<line x1="542.50" y1="829.0" x2="542.50" y2="853.9" stroke="#000" stroke-width="1.15"/>
<line x1="567.50" y1="829.0" x2="567.50" y2="853.9" stroke="#000" stroke-width="1.15"/>
<line x1="592.50" y1="829.0" x2="592.50" y2="853.9" stroke="#000" stroke-width="1.15"/>
<line x1="187.55" y1="853.9" x2="593.23" y2="853.9" stroke="#000" stroke-width="1"/>
<line x1="187.55" y1="829.0" x2="593.23" y2="829.0" stroke="#000" stroke-width="1"/>
<text class="num" x="200.49" y="845.6">0</text>
<text class="num" x="225.77" y="845.6">5</text>
<text class="num" x="251.05" y="845.6">6</text>
<text class="num" x="276.33" y="845.6">7</text>
<text class="num" x="301.61" y="845.6">8</text>
<text class="num" x="326.89" y="845.6">9</text>
<text class="num" x="352.17" y="845.6">10</text>
<text class="num" x="377.45" y="845.6">11</text>
<text class="num" x="402.73" y="845.6">12</text>
<text class="num" x="428.01" y="845.6">13</text>
<text class="num" x="453.29" y="845.6">14</text>
<text class="num" x="478.57" y="845.6">15</text>
<text class="num" x="503.85" y="845.6">16</text>
<text class="num" x="529.13" y="845.6">17</text>
<text class="num" x="554.41" y="845.6">18</text>
<text class="num" x="579.69" y="845.6">19</text>
</svg></body></html>
